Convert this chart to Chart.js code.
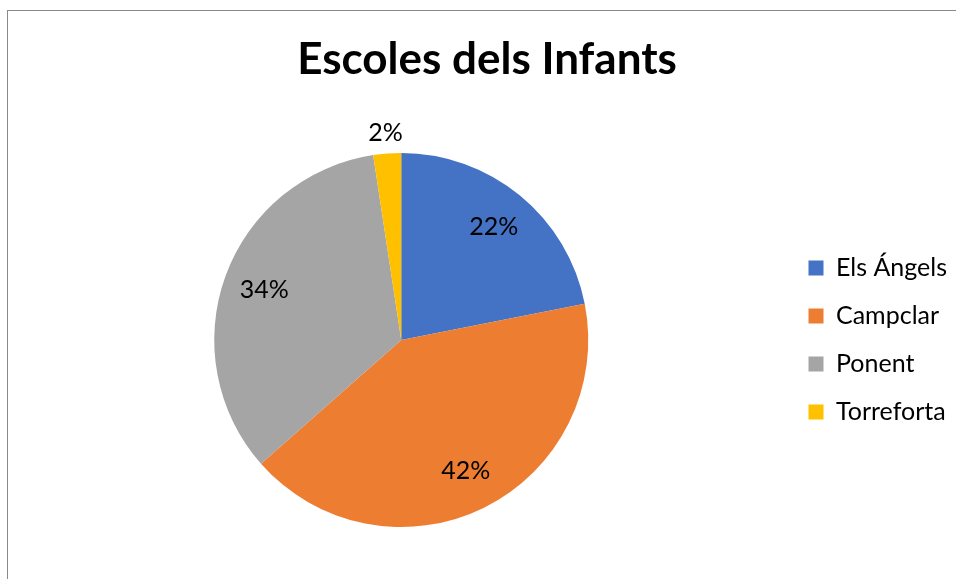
<!DOCTYPE html>
<html>
<head>
<meta charset="utf-8">
<script src="https://cdn.jsdelivr.net/npm/chart.js@4.4.1/dist/chart.umd.min.js"></script>
<style>
  html, body { margin: 0; padding: 0; background: #fff; overflow: hidden; width: 956px; height: 579px; }
  #frame { position: absolute; left: 7px; top: 10px; width: 1000px; height: 600px; border-left: 1px solid #8a8a8a; border-top: 1px solid #8a8a8a; }
  #c { position: absolute; left: 0px; top: 0px; }
</style>
</head>
<body>
<div id="frame"><canvas id="c" width="962" height="569"></canvas></div>
<script>
const chartTitle = "Escoles dels Infants";
const categories = ["Els Ángels", "Campclar", "Ponent", "Torreforta"];
const shares = [21.9, 41.6, 34.1, 2.4];
const colors = ["#4472C4", "#ED7D31", "#A5A5A5", "#FFC000"];

const FONT = "Lato, 'Open Sans', sans-serif";

const pieLabels = {
  id: 'pieLabels',
  afterDatasetsDraw(chart) {
    const ctx = chart.ctx;
    const meta = chart.getDatasetMeta(0);
    const data = chart.data.datasets[0].data;
    const total = data.reduce((a, b) => a + b, 0);
    ctx.save();
    ctx.font = "25px " + FONT;
    ctx.fillStyle = "#000";
    ctx.textAlign = "center";
    ctx.textBaseline = "middle";
    meta.data.forEach((arc, i) => {
      const p = arc.getProps(['x', 'y', 'startAngle', 'endAngle', 'outerRadius'], true);
      const mid = (p.startAngle + p.endAngle) / 2;
      const pct = data[i] / total * 100;
      const dist = pct < 5 ? p.outerRadius + 21 : p.outerRadius * 0.78;
      const x = p.x + Math.cos(mid) * dist;
      const y = p.y + Math.sin(mid) * dist;
      ctx.fillText(Math.round(pct) + "%", x, y);
    });
    ctx.restore();
  }
};

new Chart(document.getElementById('c'), {
  type: 'pie',
  data: {
    labels: categories,
    datasets: [{
      data: shares,
      backgroundColor: colors,
      borderWidth: 0
    }]
  },
  options: {
    responsive: false,
    animation: false,
    devicePixelRatio: 1,
    layout: { padding: { left: 9, right: 13, top: 0, bottom: 53 } },
    plugins: {
      title: {
        display: true,
        text: chartTitle,
        color: "#000",
        font: { family: FONT, size: 44, weight: 'bold', lineHeight: 1.2 },
        padding: { top: 22.6, bottom: 66.6 }
      },
      legend: {
        position: 'right',
        align: 'start',
        title: { display: true, text: ' ', font: { size: 12 }, padding: { top: 207, bottom: 0 } },
        labels: {
          color: "#000",
          font: { family: FONT, size: 25 },
          boxWidth: 15,
          boxHeight: 15,
          padding: 23
        }
      },
      tooltip: { enabled: false }
    }
  },
  plugins: [pieLabels]
});
</script>
</body>
</html>
